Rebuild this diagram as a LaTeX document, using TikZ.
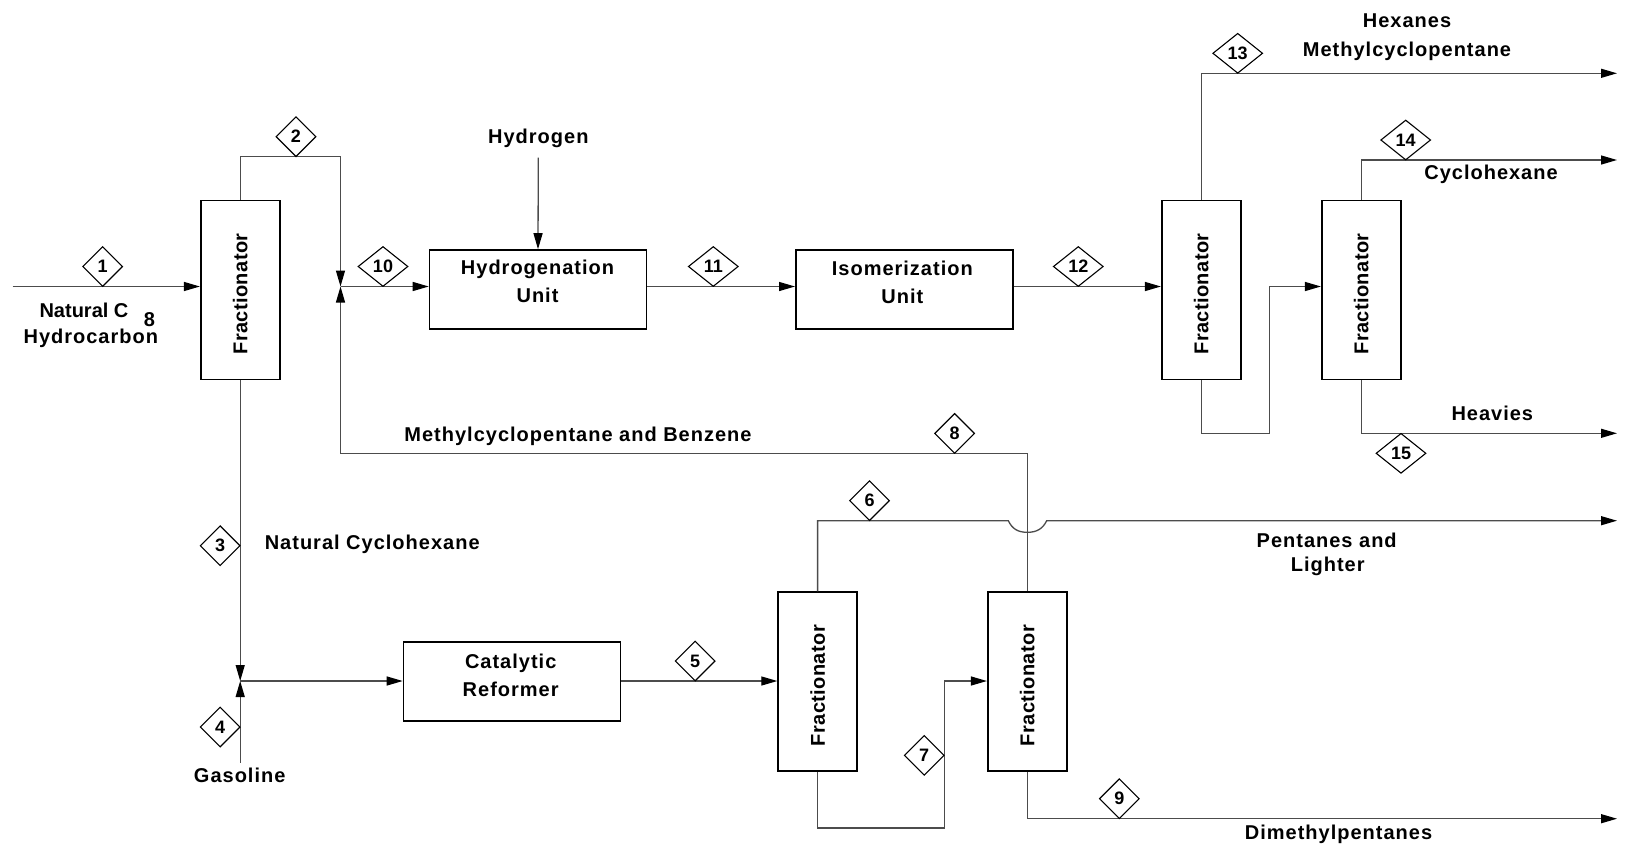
\documentclass[tikz,border=0pt]{standalone}
\usepackage{fontspec}
\setmainfont{Liberation Sans}
\newfontfamily\lblfont[LetterSpace=5]{Liberation Sans}
\newfontfamily\fracfont[LetterSpace=2]{Liberation Sans}
\newfontfamily\numfont{Liberation Sans}
\usetikzlibrary{shapes.geometric,arrows.meta}
\begin{document}
\begin{tikzpicture}[x=1pt,y=-1pt,
  fracbox/.style={draw=black, line width=1.6pt, minimum width=79pt, minimum height=179pt, inner sep=0pt},
  fractext/.style={inner sep=0pt, rotate=90, font=\fracfont\bfseries\fontsize{20}{24}\selectfont},
  unitbox/.style={draw=black, line width=1.6pt, minimum width=217pt, minimum height=79pt, inner sep=0pt},
  tag/.style={draw=black, fill=white, diamond, line width=1.1pt, minimum width=40pt, minimum height=40pt, inner sep=0pt, font=\numfont\bfseries\fontsize{18}{20}\selectfont},
  tagw/.style={tag, minimum width=50pt},
  lbl/.style={inner sep=0pt, text height=14.3pt, text depth=0pt, font=\lblfont\bfseries\fontsize{20}{24}\selectfont},
  lbln/.style={lbl, font=\numfont\bfseries\fontsize{20}{24}\selectfont},
  flow/.style={draw=black!70, line width=1.3pt},
  arr/.style={flow, -{Triangle[length=16pt,width=9pt,color=black]}}
]
\useasboundingbox (0,0) rectangle (1627,849);
\fill[white] (0,0) rectangle (1627,849);

% equipment
\node[fracbox] (F1) at (240.2,290) {};
\node[fracbox] (F4) at (1201.2,290) {};
\node[fracbox] (F5) at (1361.2,290) {};
\node[fracbox] (F2) at (817.6,681.7) {};
\node[fracbox] (F3) at (1027.2,681.7) {};
\node[unitbox] (HU) at (538,289.5) {};
\node[unitbox] (IU) at (904.3,289.5) {};
\node[unitbox] (CR) at (512,681.7) {};

\node[fractext] (tF1) at ([yshift=-4pt]F1.center) {Fractionator};
\node[fractext] (tF4) at ([yshift=-4pt]F4.center) {Fractionator};
\node[fractext] (tF5) at ([yshift=-4pt]F5.center) {Fractionator};
\node[fractext] (tF2) at ([yshift=-4pt]F2.center) {Fractionator};
\node[fractext] (tF3) at ([yshift=-4pt]F3.center) {Fractionator};

% labels
\node[lbl] (tHU1) at (537.5,267.7) {Hydrogenation};
\node[lbl] (tHU2) at (537.5,295.7) {Unit};
\node[lbl] (tIU1) at (902.3,268.3) {Isomerization};
\node[lbl] (tIU2) at (902.3,296.7) {Unit};
\node[lbl] (tCR1) at (510.7,661) {Catalytic};
\node[lbl] (tCR2) at (510.7,689) {Reformer};
\node[lbl] (tH) at (538.3,136.7) {Hydrogen};
\node[lbln] (tN1) at (84,310.7) {Natural C};
\node[lbln] (tN8) at (149.5,319.5) {8};
\node[lbl] (tN2) at (90.8,336.5) {Hydrocarbon};
\node[lbl] (tHex) at (1407,20.7) {Hexanes};
\node[lbl] (tMcp) at (1407,49.3) {Methylcyclopentane};
\node[lbl] (tCyc) at (1491,172.7) {Cyclohexane};
\node[lbl] (tHev) at (1492.3,413.3) {Heavies};
\node[lbl] (tMB) at (578,434.8) {Methylcyclopentane and Benzene};
\node[lbl,anchor=west] (tNC) at (264.6,542) {Natural Cyclohexane};
\node[lbl] (tGas) at (239.7,775) {Gasoline};
\node[lbl] (tPA) at (1326.7,540) {Pentanes and};
\node[lbl] (tLi) at (1327.7,564) {Lighter};
\node[lbl] (tDim) at (1338.5,832.7) {Dimethylpentanes};

% coordinates
\coordinate (J1) at (340.5,286.5);
\coordinate (IN) at (12.5,286.5);
\coordinate (T2) at (340.5,156.7);
\coordinate (H0) at (538.3,157.7);
\coordinate (E13) at (1617,73.3);
\coordinate (E14) at (1617,160);
\coordinate (E15) at (1617,433.3);
\coordinate (B4) at (1269.3,433.3);
\coordinate (J2) at (240.2,681);
\coordinate (G0) at (240.2,762.6);
\coordinate (M8) at (340.5,453.4);
\coordinate (H6a) at (1008.3,520.7);
\coordinate (H6b) at (1046.7,520.7);
\coordinate (E6) at (1617,520.7);
\coordinate (B7) at (944.2,828);
\coordinate (E9) at (1617,818.7);

% streams
\draw[arr] (IN) -- (IN -| F1.west);
\draw[arr] (F1.north) |- (T2) -- (J1);
\draw[arr] (F3.north) |- (M8) -- (J1);
\draw[arr] (J1) -- (J1 -| HU.west);
\draw[arr] (H0) -- (HU.north);
\draw[arr] (J1 -| HU.east) -- (J1 -| IU.west);
\draw[arr] (J1 -| IU.east) -- (J1 -| F4.west);
\draw[arr] (F4.north) |- (E13);
\draw[arr] (F4.south) |- (B4) |- (J1 -| F5.west);
\draw[arr] (F5.north) |- (E14);
\draw[arr] (F5.south) |- (E15);
\draw[arr] (F1.south) -- (J2);
\draw[arr] (G0) -- (J2);
\draw[arr] (J2) -- (J2 -| CR.west);
\draw[arr] (J2 -| CR.east) -- (J2 -| F2.west);
\draw[arr] (F2.north) |- (H6a) .. controls (1012.3,529) and (1018,532.3) .. (1027.3,532.3) .. controls (1036.6,532.3) and (1042.6,529) .. (H6b) -- (E6);
\draw[arr] (F2.south) |- (B7) |- (J2 -| F3.west);
\draw[arr] (F3.south) |- (E9);

% stream tags
\node[tag] (d1) at (102.7,266.5) {1};
\node[tag] (d2) at (296,136.7) {2};
\node[tag] (d3) at (220.2,545.7) {3};
\node[tag] (d4) at (220.2,727) {4};
\node[tag] (d5) at (695.2,661) {5};
\node[tag] (d6) at (869.5,500.7) {6};
\node[tag] (d7) at (924.2,755.4) {7};
\node[tag] (d8) at (954.6,433.4) {8};
\node[tag] (d9) at (1119.3,798.7) {9};
\node[tagw] (d10) at (383,266.5) {10};
\node[tagw] (d11) at (713.3,266.5) {11};
\node[tagw] (d12) at (1078.3,266.5) {12};
\node[tagw] (d13) at (1237.7,53.3) {13};
\node[tagw] (d14) at (1405.7,140) {14};
\node[tagw] (d15) at (1401,453.3) {15};
\end{tikzpicture}
\end{document}
